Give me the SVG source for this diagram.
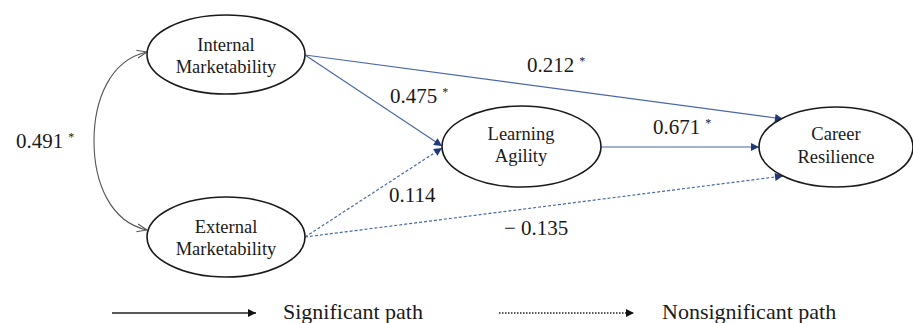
<svg xmlns="http://www.w3.org/2000/svg" width="913" height="323" viewBox="0 0 913 323">
<style>
text{font-family:'Liberation Serif','Times New Roman',serif}
.node ellipse{fill:#fff;stroke:#1a1a1a;stroke-width:1.6}
.nt{font-size:18.5px;fill:#1a1a1a;text-anchor:middle}
.lab{font-size:21px;fill:#1a1a1a}
.leg-t{font-size:22px;fill:#1a1a1a}
.sup{font-size:12px}
.path{fill:none;stroke:#4a68a8;stroke-width:1.2}
.dash{stroke-dasharray:3 2}
.leg{fill:none;stroke:#222;stroke-width:1.3}
</style>
<defs>
<marker id="ah" viewBox="0 0 10 10" refX="10" refY="5" markerWidth="9" markerHeight="8" markerUnits="userSpaceOnUse" orient="auto"><path d="M0,0 L10,5 L0,10 z" fill="#1f3878"/></marker>
<marker id="ahb" viewBox="0 0 10 10" refX="10" refY="5" markerWidth="9" markerHeight="8" markerUnits="userSpaceOnUse" orient="auto"><path d="M0,0 L10,5 L0,10 z" fill="#111"/></marker>
<marker id="open" viewBox="0 0 10 10" refX="10" refY="5" markerWidth="10" markerHeight="10" markerUnits="userSpaceOnUse" orient="auto-start-reverse"><path d="M0,1 L10,5 L0,9" fill="none" stroke="#555" stroke-width="1"/></marker>
</defs>
<g id="connectors">
<path d="M147,52 C110,60 94,100 94,141 C94,182 110,222 147,230" fill="none" stroke="#555" stroke-width="1.1" marker-start="url(#open)" marker-end="url(#open)"/>
<line class="path" x1="305" y1="55" x2="783" y2="119" marker-end="url(#ah)"/>
<line class="path" x1="305" y1="55" x2="442" y2="146" marker-end="url(#ah)"/>
<line class="path dash" x1="305" y1="237" x2="442" y2="148" marker-end="url(#ah)"/>
<line class="path dash" x1="305" y1="237" x2="783" y2="176" marker-end="url(#ah)"/>
<line class="path" x1="601" y1="147" x2="759" y2="147" marker-end="url(#ah)"/>
</g>
<g id="labels">
<text class="lab" x="16" y="148">0.491<tspan class="sup" dx="5" dy="-7">*</tspan></text>
<text class="lab" x="527" y="72">0.212<tspan class="sup" dx="5" dy="-7">*</tspan></text>
<text class="lab" x="390" y="103">0.475<tspan class="sup" dx="5" dy="-7">*</tspan></text>
<text class="lab" x="389" y="202">0.114</text>
<text class="lab" x="504" y="235">− 0.135</text>
<text class="lab" x="653" y="134">0.671<tspan class="sup" dx="5" dy="-7">*</tspan></text>
</g>
<g id="internal" class="node"><ellipse cx="226" cy="54.5" rx="79" ry="39.5"/><text class="nt" x="226" y="51">Internal</text><text class="nt" x="226" y="73">Marketability</text></g>
<g id="external" class="node"><ellipse cx="226" cy="237" rx="79" ry="40"/><text class="nt" x="226" y="233">External</text><text class="nt" x="226" y="255">Marketability</text></g>
<g id="learning" class="node"><ellipse cx="521.5" cy="146.5" rx="79.5" ry="40.5"/><text class="nt" x="521" y="140">Learning</text><text class="nt" x="521" y="162">Agility</text></g>
<g id="career" class="node"><ellipse cx="836" cy="147" rx="77" ry="40"/><text class="nt" x="836" y="140">Career</text><text class="nt" x="836" y="163">Resilience</text></g>
<g id="legend">
<line class="leg" x1="112" y1="313" x2="256" y2="313" marker-end="url(#ahb)"/>
<text class="leg-t" x="283" y="319">Significant path</text>
<line class="leg" x1="499" y1="313" x2="634" y2="313" stroke-width="1.1" stroke-dasharray="1.5 1.5" marker-end="url(#ahb)"/>
<text class="leg-t" x="662" y="319">Nonsignificant path</text>
</g>
</svg>
